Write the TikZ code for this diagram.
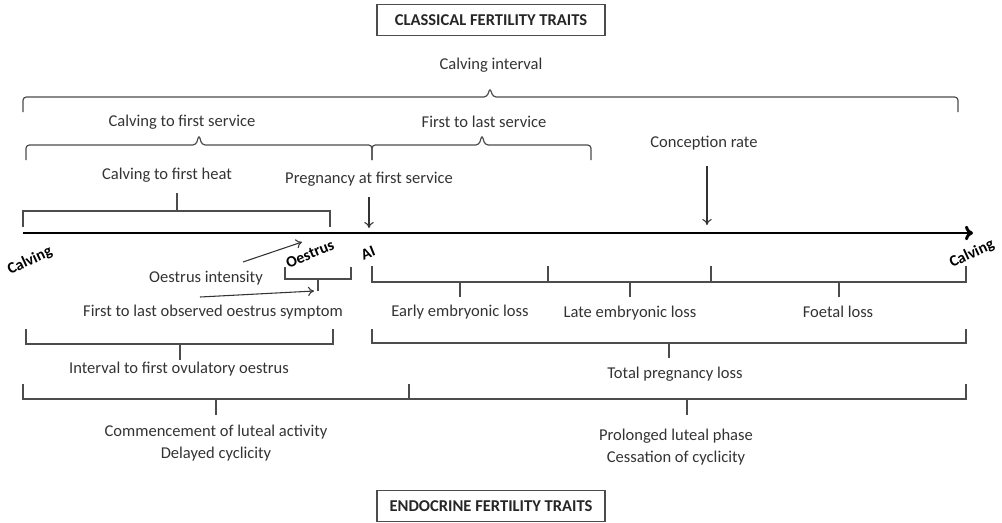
\documentclass[tikz,border=0pt]{standalone}
\usepackage{fontspec}
\setmainfont{Carlito}
\usetikzlibrary{arrows.meta}
\begin{document}
\begin{tikzpicture}[x=0.75pt,y=-0.75pt,
        lbl/.style={inner sep=0pt,text=black!80,font=\fontsize{12.4}{16}\selectfont},
        tag/.style={inner sep=0pt,text=black,font=\fontsize{11.8}{13}\selectfont\bfseries},
        traitbox/.style={draw=black!70,line width=0.8pt,minimum width=171pt,minimum height=23pt,inner sep=0pt,text=black!85,font=\fontsize{12.4}{14}\selectfont\bfseries},
        brk/.style={draw=black!70,line width=0.9pt},
        arr/.style={draw=black!80,line width=0.8pt,-{To[length=4.5pt,width=7pt]}}]
        \useasboundingbox (0,0) rectangle (1002,522);

        % trait boxes
        \node[traitbox] (classic) at (491,20) {CLASSICAL FERTILITY TRAITS};
        \node[traitbox] (endo) at (491,506) {ENDOCRINE FERTILITY TRAITS};

        % time axis
        \coordinate (start) at (23,233);
        \coordinate (end) at (973,233);
        \draw[line width=2.2pt,-{To[length=6pt,width=11pt]}] (start) -- (end);
        \node[tag,rotate=25] (calv1) at (30,261) {Calving};
        \node[tag,rotate=25] (calv2) at (972,254) {Calving};
        \node[tag,rotate=22] (oest) at (310,254) {Oestrus};
        \node[tag,rotate=22] (ai) at (368,253) {AI};

        % classical traits
        \node[lbl] (ci) at (491,65) {Calving interval};
        \draw[brk,rounded corners=2.5pt] (23,112) -- (23,97) -- (487,97) -- (490,88) -- (493,97) -- (958,97) -- (958,112);

        \node[lbl] (cfs) at (182,122) {Calving to first service};
        \node[lbl] (fls) at (484,122) {First to last service};
        \draw[brk,rounded corners=2.5pt] (26,160) -- (26,145) -- (196,145) -- (199,135) -- (202,145) -- (372,145) -- (372,160);
        \draw[brk,rounded corners=2.5pt] (372,160) -- (372,145) -- (479,145) -- (482,135) -- (485,145) -- (591,145) -- (591,160);

        \node[lbl] (cr) at (704,143) {Conception rate};
        \coordinate (crpt) at (707,225);
        \draw[arr,shorten <=12pt] (cr.south -| crpt) -- (crpt);

        \node[lbl] (pfs) at (369,179) {Pregnancy at first service};
        \coordinate (aipt) at (369,228);
        \draw[arr,shorten <=8pt] (pfs) -- (aipt);

        \node[lbl] (cfh) at (167,175) {Calving to first heat};
        \draw[brk] (23,227) -- (23,211) -- (330,211) -- (330,227);
        \draw[brk] (177,211) -- (177,193);

        % oestrus
        \draw[brk] (285,267) -- (285,279) -- (351,279) -- (351,267);
        \draw[brk] (318,279) -- (318,291);
        \node[lbl] (oi) at (206,278) {Oestrus intensity};
        \coordinate (oi1) at (243,262);
        \coordinate (oi2) at (302,242);
        \coordinate (fl1) at (200,297);
        \coordinate (fl2) at (314,291);
        \draw[arr] (oi1) -- (oi2);
        \draw[arr] (fl1) -- (fl2);
        \node[lbl] (flo) at (213,312) {First to last observed oestrus symptom};

        \draw[brk] (26,329) -- (26,344) -- (333,344) -- (333,329);
        \draw[brk] (180,344) -- (180,360);
        \node[lbl] (ifo) at (179,369) {Interval to first ovulatory oestrus};

        % pregnancy
        \draw[brk] (372,266) -- (372,282) -- (966,282) -- (966,266);
        \draw[brk] (548,266) -- (548,282);
        \draw[brk] (711,266) -- (711,282);
        \draw[brk] (460,282) -- (460,297);
        \draw[brk] (630,282) -- (630,297);
        \draw[brk] (839,282) -- (839,297);
        \node[lbl] (eel) at (460,312) {Early embryonic loss};
        \node[lbl] (lel) at (630,313) {Late embryonic loss};
        \node[lbl] (fel) at (838,312) {Foetal loss};

        \draw[brk] (372,329) -- (372,343) -- (966,343) -- (966,329);
        \draw[brk] (669,343) -- (669,358);
        \node[lbl] (tpl) at (675,374) {Total pregnancy loss};

        % endocrine traits
        \draw[brk] (23,384) -- (23,399) -- (966,399) -- (966,384);
        \draw[brk] (409,384) -- (409,399);
        \draw[brk] (216,399) -- (216,415);
        \draw[brk] (687,399) -- (687,415);
        \node[lbl,align=center] (cla) at (216,443) {Commencement of luteal activity\\Delayed cyclicity};
        \node[lbl,align=center] (plp) at (676,447) {Prolonged luteal phase\\Cessation of cyclicity};
    \end{tikzpicture}
\end{document}
